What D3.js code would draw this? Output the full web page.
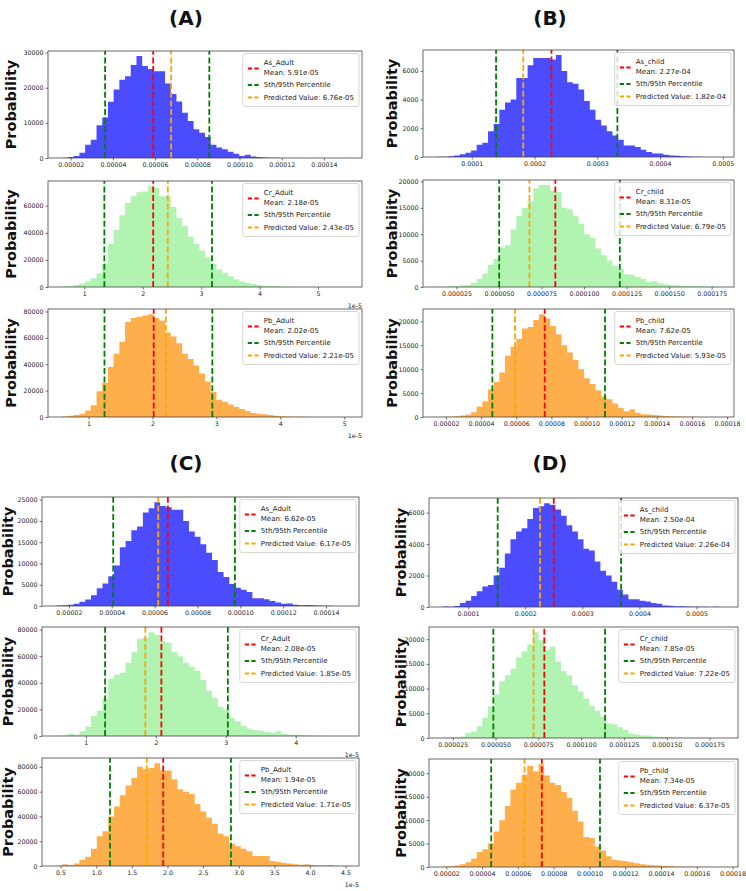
<!DOCTYPE html>
<html><head><meta charset="utf-8">
<script src="https://cdn.jsdelivr.net/npm/d3@7"></script>
<style>body{margin:0;background:#fff;} svg{display:block;} text{font-family:"DejaVu Sans",sans-serif;}</style>
</head><body>
<svg id="chart" width="746" height="891"></svg>
<script>
// ---------------- DATA ----------------
const panelLabels = ["(A)", "(B)", "(C)", "(D)"];
const seriesNames = ["As_Adult","Cr_Adult","Pb_Adult","As_child","Cr_child","Pb_child",
                     "As_Adult","Cr_Adult","Pb_Adult","As_child","Cr_child","Pb_child"];
const meanValues = [5.91e-5, 2.18e-5, 2.02e-5, 2.27e-4, 8.31e-5, 7.62e-5,
                    6.62e-5, 2.08e-5, 1.94e-5, 2.50e-4, 7.85e-5, 7.34e-5];
const p5Values = [3.63e-5, 1.344e-5, 1.25e-5, 1.387e-4, 5.01e-5, 4.64e-5,
                  4.07e-5, 1.275e-5, 1.193e-5, 1.518e-4, 4.87e-5, 4.51e-5];
const p95Values = [8.57e-5, 3.186e-5, 2.937e-5, 3.32e-4, 12.1e-5, 11.05e-5,
                   9.75e-5, 3.03e-5, 2.891e-5, 3.68e-4, 11.4e-5, 10.59e-5];
const predictedValues = [6.76e-5, 2.43e-5, 2.21e-5, 1.82e-4, 6.79e-5, 5.93e-5,
                         6.17e-5, 1.85e-5, 1.71e-5, 2.26e-4, 7.22e-5, 6.37e-5];
const binStarts = [1.6e-5, 0.624e-5, 0.59e-5, 0.448e-4, 1.362e-5, 1.498e-5,
                   1.418e-5, 0.579e-5, 0.441e-5, 0.561e-4, 1.93e-5, 1.819e-5];
const binWidths = [0.2706e-5, 0.0977e-5, 0.0893e-5, 0.0901e-4, 0.3324e-5, 0.3218e-5,
                   0.269e-5, 0.0824e-5, 0.0809e-5, 0.0984e-4, 0.3284e-5, 0.314e-5];

const countsAsAdultA = [50,300,600,1500,3800,5200,9300,11500,16000,19500,22300,23300,26500,29000,26200,25300,24700,24700,21200,18200,16100,12900,10500,8200,7200,6000,3800,3000,2500,1800,1200,600,900,400,300,150,80,50,30,20,10,10,5,5,0,0,0,0,0,3];
const countsCrAdultA = [300,500,1500,2500,4000,6500,10000,17000,32000,42000,53000,62000,67000,70000,70500,74500,73000,67000,67000,59000,51000,45000,37000,32000,27000,22000,17000,13000,10500,8000,5500,4000,3000,2200,1500,800,500,300,200,150,100,60,40,20,10,5,5,0,0,3];
const countsPbAdultA = [300,1000,1500,2500,5000,9000,19500,26000,38000,48000,57000,72000,75000,76000,77000,78000,75000,73000,64000,61000,56000,48000,44000,39000,33000,27000,19000,13000,11500,9500,7500,6000,4500,3000,2500,2000,1500,1000,600,400,250,150,100,60,40,20,10,5,0,3];
const countsAsChildB = [20,10,50,100,200,300,450,850,1000,1800,2300,3300,3800,4000,5500,5500,6400,6900,6900,6900,6800,7100,6000,5200,5100,4700,3900,3300,2600,2200,1800,1500,1200,800,800,700,500,350,250,250,150,100,80,60,40,20,10,5,0,2];
const countsCrChildB = [30,50,80,150,300,400,800,1500,2500,4200,5300,7500,7900,10900,13500,15000,16300,18700,19300,19300,18300,18000,15000,14700,13400,12000,10000,9300,7300,6000,5000,4000,3400,2400,2300,1900,1500,1000,1100,700,500,400,300,200,200,150,100,80,40,20];
const countsPbChildB = [20,30,50,150,300,500,1000,2200,3300,5800,7300,9300,12800,14700,16300,18500,18800,20300,21500,20600,19000,17300,15000,13500,11900,10000,8100,6900,5600,4300,3700,2800,1900,1200,1600,900,600,500,400,300,200,150,100,80,50,30,20,10,5,3];
const countsAsAdultC = [100,200,300,500,1000,1500,2500,4200,5300,7000,9500,13800,15300,17800,18700,22000,23000,24400,23500,23200,22600,22600,20000,17500,16300,14500,12500,10800,8000,6800,5200,4300,3800,3300,1800,1800,1600,1200,800,500,600,300,200,250,150,100,60,30,10,5];
const countsCrAdultC = [200,500,1500,1000,3500,7000,15000,19000,28000,43000,46000,47500,55000,63000,73000,74000,78000,76000,71000,70000,63000,60000,55000,52000,49000,42000,34000,28500,22000,20000,13500,11000,7500,5500,4500,4000,3000,2500,3500,1500,1000,1200,800,500,300,200,100,50,20,10];
const countsPbAdultC = [300,1500,800,2000,5000,7500,14000,24000,28000,40000,48000,57000,65000,71000,80000,78000,79000,83000,77000,77000,70000,62000,60000,58000,50000,44000,39000,34000,26000,24000,18000,16000,14000,12000,8000,8000,8000,4000,3500,2500,2000,1500,1000,1500,800,500,400,800,200,100];
const countsAsChildD = [30,10,60,250,400,700,1000,1300,1400,2000,2500,3400,4300,4800,5000,5600,6300,6400,6600,6500,6200,5800,5200,4800,4300,3700,3600,2900,2300,2000,1600,1100,800,500,500,400,350,250,200,100,80,50,40,30,20,10,10,5,20,3];
const countsCrChildD = [50,100,150,300,1000,1300,2400,4100,6400,8800,11500,12700,14000,16300,17500,19000,21400,19800,17800,18500,15500,13500,12700,10700,9400,8000,6500,5500,4300,3000,2800,2200,1600,900,700,500,500,300,250,200,150,100,80,50,40,30,20,10,5,3];
const countsPbChildD = [100,150,300,600,1000,1800,3200,3800,5000,7600,10000,13000,16500,18000,19700,21600,20400,21950,19500,18000,17500,16000,14800,12000,9700,6400,6200,4400,3500,2300,1500,1400,1300,1000,800,600,500,400,300,200,150,100,80,60,40,30,20,10,5,3];

const countsList = [countsAsAdultA, countsCrAdultA, countsPbAdultA, countsAsChildB, countsCrChildB, countsPbChildB,
                    countsAsAdultC, countsCrAdultC, countsPbAdultC, countsAsChildD, countsCrChildD, countsPbChildD];

const ticksAdultAs = [2e-5,4e-5,6e-5,8e-5,10e-5,12e-5,14e-5];
const labelsAdultAs = ["0.00002","0.00004","0.00006","0.00008","0.00010","0.00012","0.00014"];
const ticksE5a = [1e-5,2e-5,3e-5,4e-5,5e-5];
const labelsE5a = ["1","2","3","4","5"];
const ticksChildAs = [1e-4,2e-4,3e-4,4e-4,5e-4];
const labelsChildAs = ["0.0001","0.0002","0.0003","0.0004","0.0005"];
const ticksChildCr = [2.5e-5,5e-5,7.5e-5,10e-5,12.5e-5,15e-5,17.5e-5];
const labelsChildCr = ["0.000025","0.000050","0.000075","0.000100","0.000125","0.000150","0.000175"];
const ticksChildPb = [2e-5,4e-5,6e-5,8e-5,10e-5,12e-5,14e-5,16e-5,18e-5];
const labelsChildPb = ["0.00002","0.00004","0.00006","0.00008","0.00010","0.00012","0.00014","0.00016","0.00018"];
const ticksE5c = [1e-5,2e-5,3e-5,4e-5];
const labelsE5c = ["1","2","3","4"];
const ticksE5d = [0.5e-5,1e-5,1.5e-5,2e-5,2.5e-5,3e-5,3.5e-5,4e-5,4.5e-5];
const labelsE5d = ["0.5","1.0","1.5","2.0","2.5","3.0","3.5","4.0","4.5"];

const xTickValues = [ticksAdultAs, ticksE5a, ticksE5a, ticksChildAs, ticksChildCr, ticksChildPb,
                     ticksAdultAs, ticksE5c, ticksE5d, ticksChildAs, ticksChildCr, ticksChildPb];
const xTickLabels = [labelsAdultAs, labelsE5a, labelsE5a, labelsChildAs, labelsChildCr, labelsChildPb,
                     labelsAdultAs, labelsE5c, labelsE5d, labelsChildAs, labelsChildCr, labelsChildPb];
const xOffsetText = ["", "1e-5", "1e-5", "", "", "", "", "1e-5", "1e-5", "", "", ""];
const yTickValues = [
  [0,10000,20000,30000], [0,20000,40000,60000], [0,20000,40000,60000,80000],
  [0,2000,4000,6000], [0,5000,10000,15000,20000], [0,5000,10000,15000,20000],
  [0,5000,10000,15000,20000,25000], [0,20000,40000,60000,80000], [0,20000,40000,60000,80000],
  [0,2000,4000,6000], [0,5000,10000,15000,20000], [0,5000,10000,15000,20000]
];

// ---------------- LAYOUT / STYLE ----------------
const layout = [
  {left:48,  right:362, rows:[[51,158],[181,287],[309,417]], ylabX:10.5, titleX:186, titleY:25},
  {left:423, right:734, rows:[[50,157],[180,287],[309,417]], ylabX:392,  titleX:550, titleY:25},
  {left:42,  right:359, rows:[[497,606],[627,736],[758,866]], ylabX:7.5, titleX:186, titleY:470},
  {left:429, right:738, rows:[[498,607],[627,738],[759,867]], ylabX:400.5, titleX:550, titleY:470}
];
const fillColors = ["blue", "lightgreen", "darkorange"];
const svg = d3.select("#chart");

function fmtExp(v) {
  return v.toExponential(2).replace(/e([+-])(\d)$/, "e$10$2");
}

function measure(txt, size) {
  const t = svg.append("text").attr("font-size", size).text(txt);
  const w = t.node().getComputedTextLength();
  t.remove();
  return w;
}

function drawSub(k, f, ylabX) {
  const row = k % 3;
  const counts = countsList[k];
  const nb = counts.length;
  const start = binStarts[k], bw = binWidths[k];
  const end = start + nb * bw;
  const span = end - start;
  const x = d3.scaleLinear().domain([start - 0.05 * span, end + 0.05 * span]).range([f.left, f.right]);
  const y = d3.scaleLinear().domain([0, d3.max(counts) * 1.05]).range([f.bottom, f.top]);

  const g = svg.append("g");
  const clipId = "clip" + k;
  svg.append("clipPath").attr("id", clipId).append("rect")
    .attr("x", f.left).attr("y", f.top).attr("width", f.right - f.left).attr("height", f.bottom - f.top);
  const pg = g.append("g").attr("clip-path", `url(#${clipId})`);

  const pts = counts.map((c, i) => ({x0: start + i * bw, c}));
  pts.push({x0: end, c: counts[nb - 1]});
  const area = d3.area().curve(d3.curveStepAfter)
    .x(d => x(d.x0)).y0(y(0)).y1(d => y(d.c));
  pg.append("path").datum(pts).attr("d", area)
    .attr("fill", fillColors[row]).attr("fill-opacity", 0.7);

  const vlines = [
    {v: meanValues[k], c: "red"},
    {v: p5Values[k], c: "green"},
    {v: p95Values[k], c: "green"},
    {v: predictedValues[k], c: "orange"}
  ];
  pg.selectAll("line.vl").data(vlines).join("line").attr("class", "vl")
    .attr("x1", d => x(d.v)).attr("x2", d => x(d.v))
    .attr("y1", f.bottom).attr("y2", f.top)
    .attr("stroke", d => d.c).attr("stroke-width", 1.8).attr("stroke-dasharray", "6,2.6");

  // axes
  const xAxis = d3.axisBottom(x).tickValues(xTickValues[k])
    .tickFormat((d, i) => xTickLabels[k][i]).tickSize(2.5).tickPadding(2);
  const gx = g.append("g").attr("transform", `translate(0,${f.bottom})`).call(xAxis);
  const yAxis = d3.axisLeft(y).tickValues(yTickValues[k]).tickFormat(d3.format("d")).tickSize(2.5).tickPadding(2);
  const gy = g.append("g").attr("transform", `translate(${f.left},0)`).call(yAxis);
  [gx, gy].forEach(ax => {
    ax.attr("fill", "#222");
    ax.select(".domain").remove();
    ax.selectAll("line").attr("stroke", "#333").attr("stroke-width", 0.7);
    ax.selectAll("text").attr("font-size", 6.3).attr("fill", "#222")
      .attr("font-family", "DejaVu Sans, sans-serif");
  });

  g.append("rect").attr("x", f.left).attr("y", f.top)
    .attr("width", f.right - f.left).attr("height", f.bottom - f.top)
    .attr("fill", "none").attr("stroke", "#444").attr("stroke-width", 0.8);

  if (xOffsetText[k]) {
    g.append("text").attr("x", f.right).attr("y", f.bottom + 21)
      .attr("text-anchor", "end").attr("font-size", 6.3).attr("fill", "#222").text(xOffsetText[k]);
  }

  g.append("text")
    .attr("transform", `translate(${ylabX},${(f.top + f.bottom) / 2}) rotate(-90)`)
    .attr("text-anchor", "middle").attr("dy", "0.35em")
    .attr("font-size", 14.5).attr("font-weight", "bold").attr("fill", "#111")
    .text("Probability");

  // legend
  const entries = [
    {c: "red", lines: [seriesNames[k], "Mean: " + fmtExp(meanValues[k])], ty: [9.5, 19.5], hy: 15},
    {c: "green", lines: ["5th/95th Percentile"], ty: [31.5], hy: 31.5},
    {c: "orange", lines: ["Predicted Value: " + fmtExp(predictedValues[k])], ty: [44], hy: 44}
  ];
  const fs = 7;
  let maxW = 0;
  entries.forEach(e => e.lines.forEach(l => { maxW = Math.max(maxW, measure(l, fs)); }));
  const boxW = 21 + maxW + 5, boxH = 53;
  const bx = f.right - 3 - boxW, by = f.top + 2.5;
  const lg = g.append("g");
  lg.append("rect").attr("x", bx).attr("y", by).attr("width", boxW).attr("height", boxH)
    .attr("rx", 2).attr("fill", "white").attr("fill-opacity", 0.8)
    .attr("stroke", "#cccccc").attr("stroke-width", 0.8);
  entries.forEach(e => {
    lg.append("line").attr("x1", bx + 5).attr("x2", bx + 16)
      .attr("y1", by + e.hy).attr("y2", by + e.hy)
      .attr("stroke", e.c).attr("stroke-width", 1.8).attr("stroke-dasharray", "4.2,2.4");
    e.lines.forEach((l, i) => {
      lg.append("text").attr("x", bx + 21).attr("y", by + e.ty[i]).attr("dy", "0.35em")
        .attr("font-size", fs).attr("fill", "#222").text(l);
    });
  });
}

layout.forEach((L, p) => {
  svg.append("text").attr("x", L.titleX).attr("y", L.titleY)
    .attr("text-anchor", "middle").attr("font-weight", "bold").attr("font-size", 20)
    .attr("fill", "#111").text(panelLabels[p]);
  L.rows.forEach((r, j) => {
    drawSub(p * 3 + j, {left: L.left, right: L.right, top: r[0], bottom: r[1]}, L.ylabX);
  });
});
</script>
</body></html>
